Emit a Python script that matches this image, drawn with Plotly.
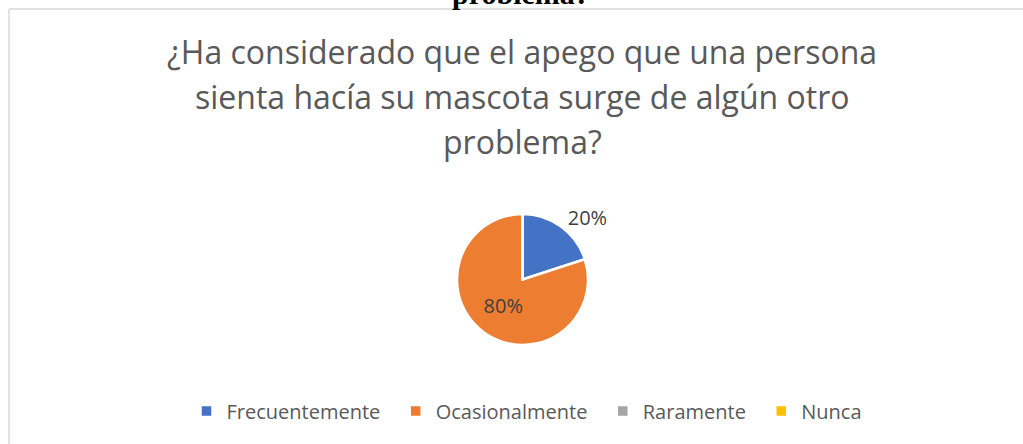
import plotly.graph_objects as go

categories = ["Frecuentemente", "Ocasionalmente", "Raramente", "Nunca"]
values = [20, 80, 0, 0]
label_text = ["20%", "80%", "", ""]
colors = ["#4472C4", "#ED7D31", "#A5A5A5", "#FFC000"]
title_lines = ["¿Ha considerado que el apego que una persona",
               "sienta hacía su mascota surge de algún otro",
               "problema?"]

W, H = 1023, 444
cx, cy, r = 522.5, 279.5, 65.5

# legend entries with extra trailing space to reproduce the wider item gaps
legend_names = [c + "\u00a0" * 2 for c in categories]

fig = go.Figure(go.Pie(
    labels=legend_names, values=values, text=label_text,
    textinfo="text", textposition=["outside", "inside", "none", "none"],
    marker=dict(colors=colors, line=dict(color="white", width=2.5)),
    sort=False, direction="clockwise", rotation=0,
    insidetextfont=dict(family="Open Sans", size=20, color="#404040"),
    outsidetextfont=dict(family="Open Sans", size=20, color="#404040"),
    domain=dict(x=[(cx - r) / W, (cx + r) / W], y=[1 - (cy + r) / H, 1 - (cy - r) / H]),
    hoverinfo="label+percent",
))

title_annotations = [
    dict(text=line, x=522 / W, y=1 - (28 + 45 * i) / H, xref="paper", yref="paper",
         xanchor="center", yanchor="top", showarrow=False, align="center",
         font=dict(family="Open Sans", size=32, color="#595959"))
    for i, line in enumerate(title_lines)
]

fig.update_layout(
    width=W, height=H, margin=dict(l=0, r=0, t=0, b=0),
    paper_bgcolor="white", plot_bgcolor="white",
    showlegend=True,
    legend=dict(orientation="h", x=532 / W, xanchor="center", y=1 - 411 / H, yanchor="middle",
                font=dict(family="Open Sans", size=20, color="#595959"),
                itemwidth=30, traceorder="normal"),
    annotations=title_annotations + [
        dict(text="<b>problema?</b>", x=521 / W, y=1 - 12 / H, xref="paper", yref="paper",
             xanchor="center", yanchor="bottom", showarrow=False,
             font=dict(family="Liberation Serif", size=30, color="black")),
    ],
    shapes=[
        dict(type="line", xref="paper", yref="paper", x0=9 / W, x1=1, y0=1 - 9 / H, y1=1 - 9 / H,
             line=dict(color="#D9D9D9", width=1.5)),
        dict(type="line", xref="paper", yref="paper", x0=9 / W, x1=9 / W, y0=0, y1=1 - 9 / H,
             line=dict(color="#D9D9D9", width=1.5)),
    ],
)

fig.write_html("out.html", config={"displayModeBar": False},
               post_script="document.body.style.margin='0';document.body.style.overflow='hidden';")
